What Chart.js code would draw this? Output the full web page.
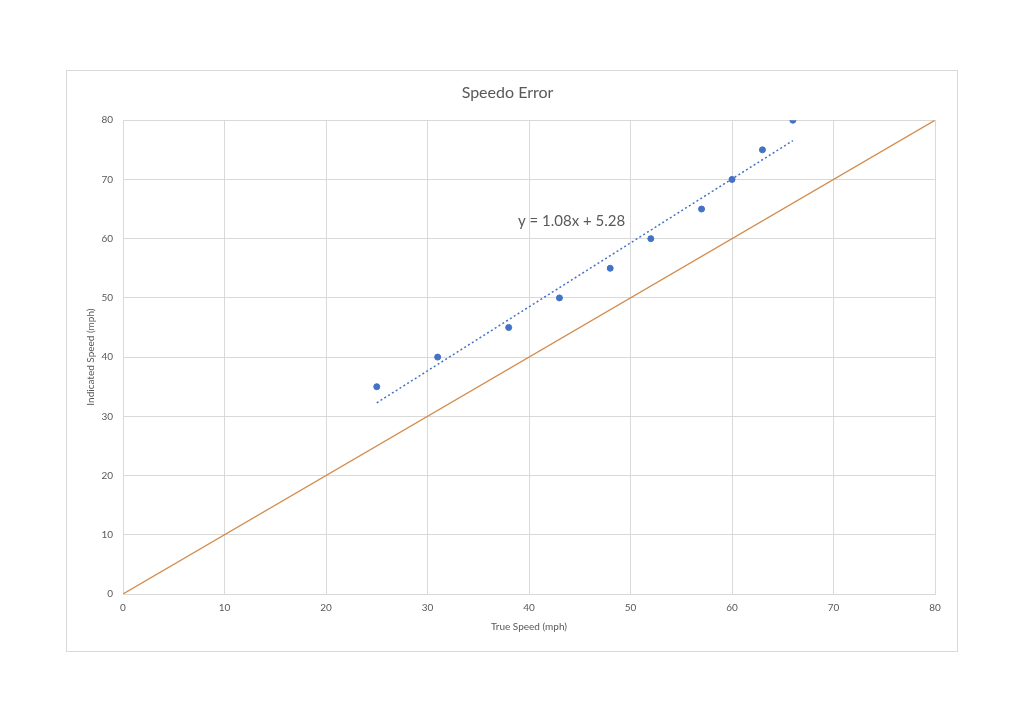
<!DOCTYPE html>
<html>
<head>
<meta charset="utf-8">
<title>Speedo Error</title>
<script src="https://cdn.jsdelivr.net/npm/chart.js@4"></script>
<style>
  html, body { margin: 0; padding: 0; background: #ffffff; }
  canvas { display: block; }
</style>
</head>
<body>
<canvas id="chart" width="1024" height="723"></canvas>
<script>
// valeurs
const trueSpeed = [25, 31, 38, 43, 48, 52, 57, 60, 63, 66];
const indicatedSpeed = [35, 40, 45, 50, 55, 60, 65, 70, 75, 80];

// courbe de tendance (Excel) : y = 1.08x + 5.28
const trendX = [25, 66];
const trendY = [32.28, 76.56];
const trendLabel = "y = 1.08x + 5.28";

// droite de référence y = x
const refX = [0, 80];
const refY = [0, 80];

const toPoints = (xs, ys) => xs.map((x, i) => ({ x: x, y: ys[i] }));

const textColor = "#595959";
const gridColor = "#d9d9d9";
const fontFamily = "Lato, 'Open Sans', sans-serif";

// fond blanc + cadre gris autour du graphique
const framePlugin = {
  id: "frame",
  beforeDraw(chart) {
    const ctx = chart.ctx;
    ctx.save();
    ctx.fillStyle = "#ffffff";
    ctx.fillRect(0, 0, chart.width, chart.height);
    ctx.strokeStyle = gridColor;
    ctx.lineWidth = 1;
    ctx.strokeRect(66.5, 70.5, 891, 581);
    ctx.restore();
  },
};

// étiquette de l'équation de tendance
const trendLabelPlugin = {
  id: "trendLabel",
  afterDatasetsDraw(chart) {
    const ctx = chart.ctx;
    const x = chart.scales.x.getPixelForValue(44.2);
    const y = chart.scales.y.getPixelForValue(62.9);
    ctx.save();
    ctx.font = "15px " + fontFamily;
    ctx.fillStyle = textColor;
    ctx.textAlign = "center";
    ctx.textBaseline = "middle";
    ctx.fillText(trendLabel, x, y);
    ctx.restore();
  },
};

const ctx = document.getElementById("chart").getContext("2d");

new Chart(ctx, {
  type: "scatter",
  data: {
    datasets: [
      {
        label: "Indicated",
        data: toPoints(trueSpeed, indicatedSpeed),
        backgroundColor: "#4472C4",
        borderColor: "#4472C4",
        pointRadius: 3,
        pointHoverRadius: 3,
        order: 0,
      },
      {
        label: "Tendance",
        type: "line",
        data: toPoints(trendX, trendY),
        borderColor: "#4472C4",
        borderWidth: 1.5,
        borderDash: [2, 2.5],
        pointRadius: 0,
        fill: false,
        order: 1,
      },
      {
        label: "y = x",
        type: "line",
        data: toPoints(refX, refY),
        borderColor: "#D38B4C",
        borderWidth: 1.25,
        pointRadius: 0,
        fill: false,
        order: 2,
      },
    ],
  },
  options: {
    responsive: false,
    animation: false,
    layout: {
      autoPadding: false,
      padding: { left: 80, right: 89, top: 80, bottom: 85 },
    },
    plugins: {
      legend: { display: false },
      tooltip: { enabled: false },
      title: {
        display: true,
        text: "Speedo Error",
        color: textColor,
        font: { family: fontFamily, size: 16, weight: "normal" },
        padding: { top: 3, bottom: 18 },
      },
    },
    scales: {
      x: {
        type: "linear",
        min: 0,
        max: 80,
        ticks: {
          stepSize: 10,
          color: textColor,
          padding: 8,
          maxRotation: 0,
          font: { family: fontFamily, size: 10 },
        },
        grid: { color: gridColor, drawTicks: false },
        border: { color: gridColor },
        title: {
          display: true,
          text: "True Speed (mph)",
          color: textColor,
          font: { family: fontFamily, size: 10 },
          padding: { top: 0, bottom: 5 },
        },
        afterFit(scale) { scale.height = 44; },
      },
      y: {
        type: "linear",
        min: 0,
        max: 80,
        ticks: {
          stepSize: 10,
          color: textColor,
          padding: 10,
          font: { family: fontFamily, size: 10 },
        },
        grid: { color: gridColor, drawTicks: false },
        border: { color: gridColor },
        title: {
          display: true,
          text: "Indicated Speed (mph)",
          color: textColor,
          font: { family: fontFamily, size: 10 },
          padding: { top: 5, bottom: 0 },
        },
        afterFit(scale) { scale.width = 43; },
      },
    },
  },
  plugins: [framePlugin, trendLabelPlugin],
});
</script>
</body>
</html>
